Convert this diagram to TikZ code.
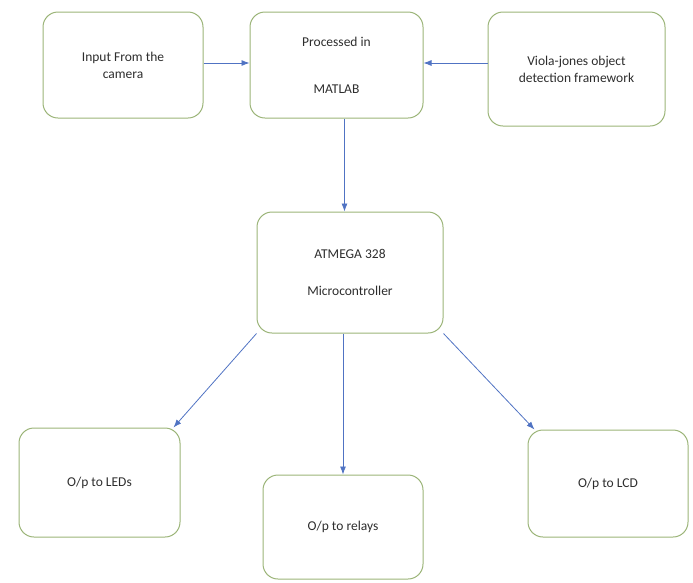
\documentclass[tikz,border=0pt]{standalone}
\usepackage{fontspec}
\setmainfont{Carlito}
\usepackage{tikz}
\usetikzlibrary{arrows,arrows.meta,shapes,positioning}
\definecolor{boxgreen}{RGB}{155,180,120}
\definecolor{linkblue}{RGB}{80,115,195}
\definecolor{textgray}{RGB}{45,45,45}
\tikzset{
    basic/.style  = {draw=boxgreen, line width=1pt, rectangle, rounded corners=15pt, align=center, text=textgray, font=\fontsize{13.5}{17}\selectfont, inner sep=0pt},
    block/.style  = {basic, minimum width=160pt, minimum height=106pt},
    link/.style   = {->, draw=linkblue, line width=0.8pt}
}

\begin{document}
\begin{tikzpicture}[x=1pt,y=-1pt,>={Latex[length=8pt,width=6pt]}]
	\useasboundingbox (0,0) rectangle (693,582);
	% top row
	\node[block] (camera) at (123,65) {Input From the\\camera};
	\node[block, minimum width=173pt] (matlab) at (336.5,65) {Processed in\\[30pt]MATLAB};
	\node[block, minimum width=177pt, minimum height=114pt] (viola) at (576.5,69) {Viola-jones object\\detection framework};
	% controller
	\node[block, minimum width=186pt, minimum height=121pt] (atmega) at (350,272.5) {ATMEGA 328\\[20pt]Microcontroller};
	% outputs
	\node[block, minimum width=161pt, minimum height=109pt] (leds) at (99.5,482.5) {O/p to LEDs};
	\node[block, minimum height=104pt] (relays) at (343,527) {O/p to relays};
	\node[block, minimum height=107pt] (lcd) at (608,483.5) {O/p to LCD};
	% links
	\draw[link] (camera.east |- 0,63) -- (matlab.west |- 0,63);
	\draw[link] (viola.west |- 0,63) -- (matlab.east |- 0,63);
	\draw[link] ([xshift=8pt]matlab.south) -- ([xshift=8pt]matlab.south |- atmega.north);
	\draw[link] (atmega.south west) -- ([xshift=-7pt]leds.north east);
	\draw[link] (relays.north |- atmega.south) -- (relays.north);
	\draw[link] (atmega.south east) -- ([xshift=7pt]lcd.north west);
\end{tikzpicture}
\end{document}
